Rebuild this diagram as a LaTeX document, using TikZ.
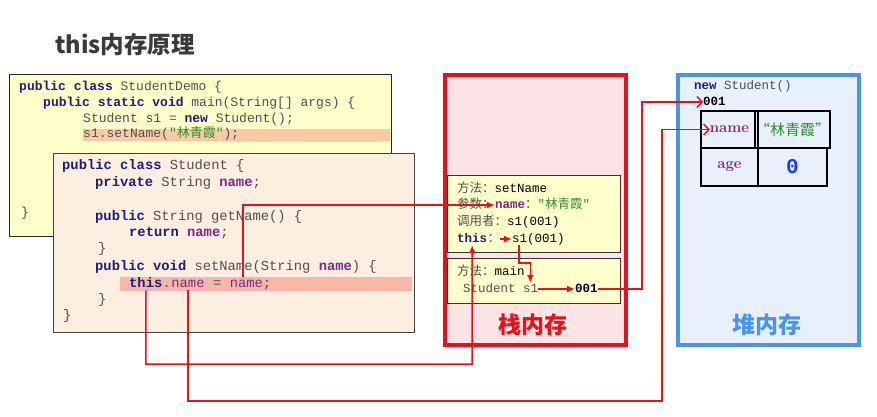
\documentclass[tikz,border=0pt]{standalone}
\usepackage{fontspec}
\setmonofont{Liberation Mono}
\newfontfamily\cjk{Noto Sans CJK SC}
\usepackage{xcolor}
\usetikzlibrary{arrows.meta,positioning}

\definecolor{demofill}{HTML}{FFFFCC}
\definecolor{stufill}{HTML}{FDEEE2}
\definecolor{demohl}{HTML}{F9CBA5}
\definecolor{stuhl}{HTML}{F7B8AA}
\definecolor{stackfill}{HTML}{FCE4E6}
\definecolor{stackred}{HTML}{E8101A}
\definecolor{heapfill}{HTML}{E7F0FB}
\definecolor{heapblue}{HTML}{4A94EA}
\definecolor{kwblue}{HTML}{1E1E7E}
\definecolor{fldpurple}{HTML}{7A2A86}
\definecolor{strgreen}{HTML}{2F8F2A}
\definecolor{codegray}{HTML}{505050}
\definecolor{zeroblue}{HTML}{1A3CF0}
\definecolor{titlegray}{HTML}{3A3A3A}

\newcommand\kwd[1]{\textbf{\color{kwblue}#1}}
\newcommand\fldn[1]{{\color{fldpurple}#1}}
\newcommand\strv[1]{{\color{strgreen}"{\cjk #1}"}}

\tikzset{
  democode/.style={anchor=west, inner sep=0pt, text height=9.5pt, text depth=3pt,
    text=codegray, font=\ttfamily\fontsize{13}{15}\selectfont},
  stucode/.style={democode, font=\ttfamily\fontsize{13.8}{16}\selectfont},
  frametxt/.style={anchor=west, inner sep=0pt, text height=9pt, text depth=3pt,
    text=codegray, font=\ttfamily\fontsize{12.5}{15}\selectfont},
  framebox/.style={draw=black!80, line width=1pt, fill=demofill, anchor=north west, inner sep=0pt},
  memlabel/.style={font=\cjk\bfseries\fontsize{23}{26}\selectfont},
  cell/.style={draw=black, line width=2.6pt, inner sep=0pt},
  ptr/.style={draw=stackred, line width=1.5pt, -{Latex[length=8pt,width=7pt]}},
  heapptr/.style={draw=stackred, line width=1.5pt, -{Straight Barb[length=5pt,width=11pt]}},
}

\begin{document}
\begin{tikzpicture}[x=1pt, y=-1pt]
\path[fill=white, use as bounding box] (0,0) rectangle (877,416);

% title
\node[anchor=west, inner sep=0pt, text=titlegray, font=\cjk\bfseries\fontsize{23.5}{27}\selectfont] (title) at (55,45) {this内存原理};

% StudentDemo source
\node[draw=black!85, line width=1pt, fill=demofill, anchor=north west, inner sep=0pt,
  minimum width=382pt, minimum height=162pt] (demo) at (9,74) {};
\node[fill=demohl, anchor=north west, inner sep=0pt, minimum width=307pt, minimum height=12pt] (demohl) at (83,129) {};
\node[democode] (d1) at (19,87) {\kwd{public class} StudentDemo \{};
\node[democode] (d2) at (43,103) {\kwd{public static void} main(String[] args) \{};
\node[democode] (d3) at (83,119) {Student s1 = \kwd{new} Student();};
\node[democode] (d4) at (83,134) {s1.setName(\strv{林青霞});};
\node[democode] (d5) at (21,213) {\}};

% Student source
\node[draw=black!75, line width=1pt, fill=stufill, anchor=north west, inner sep=0pt,
  minimum width=361pt, minimum height=179pt] (stu) at (53,153) {};
\node[fill=stuhl, anchor=north west, inner sep=0pt, minimum width=292pt, minimum height=14pt] (stuhl) at (120,277) {};
\node[stucode] (s1) at (62,166) {\kwd{public class} Student \{};
\node[stucode] (s2) at (95,183) {\kwd{private} String \fldn{\textbf{name}};};
\node[stucode] (s3) at (95,217) {\kwd{public} String getName() \{};
\node[stucode] (s4) at (129,233) {\kwd{return} \fldn{\textbf{name}};};
\node[stucode] (s5) at (98,249) {\}};
\node[stucode] (s6) at (95,267) {\kwd{public void} setName(String \fldn{\textbf{name}}) \{};
\node[stucode] (thisw) at (129,284) {\kwd{this}};
\node[stucode, right=0pt of thisw] (dotw) {.};
\node[stucode, right=0pt of dotw] (fldw) {\fldn{name}};
\node[stucode, right=0pt of fldw] (restw) {\ = \fldn{name};};
\node[stucode] (s8) at (98,300) {\}};
\node[stucode] (s9) at (63,316) {\}};

% stack memory
\node[draw=stackred, line width=3.5pt, fill=stackfill, anchor=north west, inner sep=0pt,
  minimum width=181pt, minimum height=270pt] (stack) at (443,73) {};
\node[framebox, minimum width=173pt, minimum height=77pt] (setframe) at (447,175) {};
\node[framebox, minimum width=173pt, minimum height=45pt] (mainframe) at (447,258) {};
\node[frametxt] (f1) at (457,189) {{\cjk 方法：}\textcolor{black}{setName}};
\node[frametxt] (argl) at (457,205) {\cjk 参数：};
\node[frametxt, right=0pt of argl] (namep) {\fldn{\textbf{name}}{\cjk ：}\strv{林青霞}};
\node[frametxt] (f3) at (457,222) {{\cjk 调用者：}\textcolor{black}{s1(001)}};
\node[frametxt] (thisk) at (457,239) {\kwd{this}};
\node[frametxt, right=0pt of thisk] (thiscol) {\cjk ：};
\node[frametxt, text=black] (thiss) at (512,239) {s1(001)};
\node[frametxt] (m1) at (457,272) {{\cjk 方法：}\textcolor{black}{main}};
\node[frametxt] (stuvar) at (463,289) {Student s1};
\node[frametxt, text=black, font=\ttfamily\bfseries\fontsize{12.5}{15}\selectfont] (ref001) at (575,289) {001};
\node[memlabel, text=stackred] (stacklbl) at (533,325) {栈内存};

% heap memory
\node[draw=heapblue, line width=3.5pt, fill=heapfill, anchor=north west, inner sep=0pt,
  minimum width=181pt, minimum height=270pt] (heap) at (676,73) {};
\node[frametxt] (hnew) at (694,86) {\kwd{new} Student()};
\node[frametxt, text=black, font=\ttfamily\bfseries\fontsize{12.5}{15}\selectfont] (h001) at (703,102) {001};
\node[cell, minimum width=57pt, minimum height=37pt, text=fldpurple,
  font=\bfseries\fontsize{15}{17}\selectfont] (hnm) at (729.5,129.5) {name};
\node[cell, minimum width=69pt, minimum height=37pt, text=strgreen,
  font=\cjk\fontsize{15}{17}\selectfont] (hval) at (792.5,129.5) {“林青霞”};
\node[cell, minimum width=57pt, minimum height=38pt, text=fldpurple,
  font=\bfseries\fontsize{15}{17}\selectfont] (hage) at (729.5,167) {age};
\node[cell, minimum width=69pt, minimum height=38pt, text=zeroblue,
  font=\ttfamily\bfseries\fontsize{21}{23}\selectfont] (hzero) at (792.5,167) {0};
\node[memlabel, text=heapblue] (heaplbl) at (767,325) {堆内存};

% pointers
\coordinate (setnm) at (243,277);
\coordinate (stackjog) at (472,364);
\coordinate (heapjog) at (662,401);
\coordinate (jog001) at (642,200);
\draw[ptr] (setnm) |- (namep.west);
\draw[ptr] (thiscol.east) -- (thiss.west);
\draw[ptr] ([xshift=7pt]thiss.south west) -- ++(0,18) -| ([xshift=-8pt]stuvar.north east);
\draw[ptr] (stuvar.east) -- (ref001.west);
\draw[heapptr] (ref001.east) -| (jog001) |- (h001.west);
\draw[ptr] (thisw.south) |- (stackjog) -- (thisk.south);
\draw[heapptr] (fldw.south) |- (heapjog) |- ([xshift=10pt]hnm.west);
\end{tikzpicture}
\end{document}
